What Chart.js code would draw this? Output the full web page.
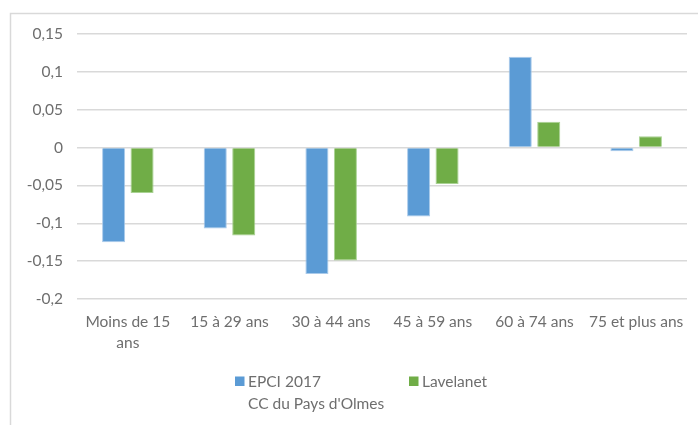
<!DOCTYPE html>
<html>
<head>
<meta charset="utf-8">
<script src="https://cdn.jsdelivr.net/npm/chart.js@4.4.1/dist/chart.umd.min.js"></script>
<style>
  html, body { margin: 0; padding: 0; background: #ffffff; }
  #wrap { width: 698px; height: 425px; position: relative; }
</style>
</head>
<body>
<div id="wrap"><canvas id="c" width="698" height="425"></canvas></div>
<script>
// Age groups and the change for each territory
const categories = [['Moins de 15', 'ans'], '15 à 29 ans', '30 à 44 ans', '45 à 59 ans', '60 à 74 ans', '75 et plus ans'];
const epciLabel = ['EPCI 2017', 'CC du Pays d\'Olmes'];
const epciValues = [-0.125, -0.107, -0.167, -0.091, 0.12, -0.005];
const lavelanetLabel = 'Lavelanet';
const lavelanetValues = [-0.06, -0.116, -0.149, -0.048, 0.034, 0.015];
const yTicks = [-0.2, -0.15, -0.1, -0.05, 0, 0.05, 0.1, 0.15];

const FONT = 'Lato, "Open Sans", sans-serif';
const FONT_SIZE = 15.5;
const TEXT = '#6e6e6e';
const BLUE = '#5b9bd5';
const GREEN = '#70ad47';

// Outer frame of the chart object
const framePlugin = {
  id: 'frame',
  beforeDraw(chart) {
    const ctx = chart.ctx;
    ctx.save();
    ctx.strokeStyle = '#d9d9d9';
    ctx.lineWidth = 1.5;
    ctx.beginPath();
    ctx.moveTo(10.5, 425);
    ctx.lineTo(10.5, 13.5);
    ctx.lineTo(698, 13.5);
    ctx.stroke();
    ctx.restore();
  }
};

// Legend below the axis, with a two-line entry
const legendPlugin = {
  id: 'customLegend',
  afterDraw(chart) {
    const ctx = chart.ctx;
    ctx.save();
    ctx.font = FONT_SIZE + 'px ' + FONT;
    ctx.textBaseline = 'middle';
    ctx.textAlign = 'left';
    const items = [
      { x: 235, lines: chart.data.datasets[0].label, color: chart.data.datasets[0].backgroundColor },
      { x: 409, lines: [chart.data.datasets[1].label], color: chart.data.datasets[1].backgroundColor }
    ];
    const y0 = 381.5;
    items.forEach(it => {
      ctx.fillStyle = it.color;
      ctx.fillRect(it.x, y0 - 5, 9.5, 9.5);
      ctx.fillStyle = TEXT;
      const lines = Array.isArray(it.lines) ? it.lines : [it.lines];
      lines.forEach((t, i) => ctx.fillText(t, it.x + 13, y0 + i * 22));
    });
    ctx.restore();
  }
};

new Chart(document.getElementById('c'), {
  type: 'bar',
  data: {
    labels: categories,
    datasets: [
      { label: epciLabel, data: epciValues, backgroundColor: BLUE, borderColor: 'rgba(160,196,232,0.9)', borderWidth: 1,
        categoryPercentage: 0.56, barPercentage: 0.81 },
      { label: lavelanetLabel, data: lavelanetValues, backgroundColor: GREEN, borderColor: 'rgba(160,205,135,0.9)', borderWidth: 1,
        categoryPercentage: 0.56, barPercentage: 0.81 }
    ]
  },
  options: {
    responsive: false,
    animation: false,
    devicePixelRatio: 1,
    layout: { padding: { left: 0, right: 11, top: 34, bottom: 0 } },
    plugins: {
      legend: { display: false },
      tooltip: { enabled: false }
    },
    scales: {
      x: {
        grid: { display: false, drawTicks: false },
        border: { display: false },
        ticks: {
          color: TEXT,
          font: { family: FONT, size: FONT_SIZE, lineHeight: 1.32 },
          maxRotation: 0, minRotation: 0, autoSkip: false,
          padding: 13
        },
        afterFit(s) { s.height = 126; }
      },
      y: {
        min: -0.2, max: 0.15,
        afterBuildTicks(s) { s.ticks = yTicks.map(v => ({ value: v })); },
        grid: { color: '#d9d9d9', lineWidth: 1.5, drawTicks: false },
        border: { display: false },
        ticks: {
          color: TEXT,
          font: { family: FONT, size: FONT_SIZE },
          padding: 14,
          callback: v => String(Math.round(v * 100) / 100).replace('.', ',')
        },
        afterFit(s) { s.width = 77; }
      }
    }
  },
  plugins: [framePlugin, legendPlugin]
});
</script>
</body>
</html>
